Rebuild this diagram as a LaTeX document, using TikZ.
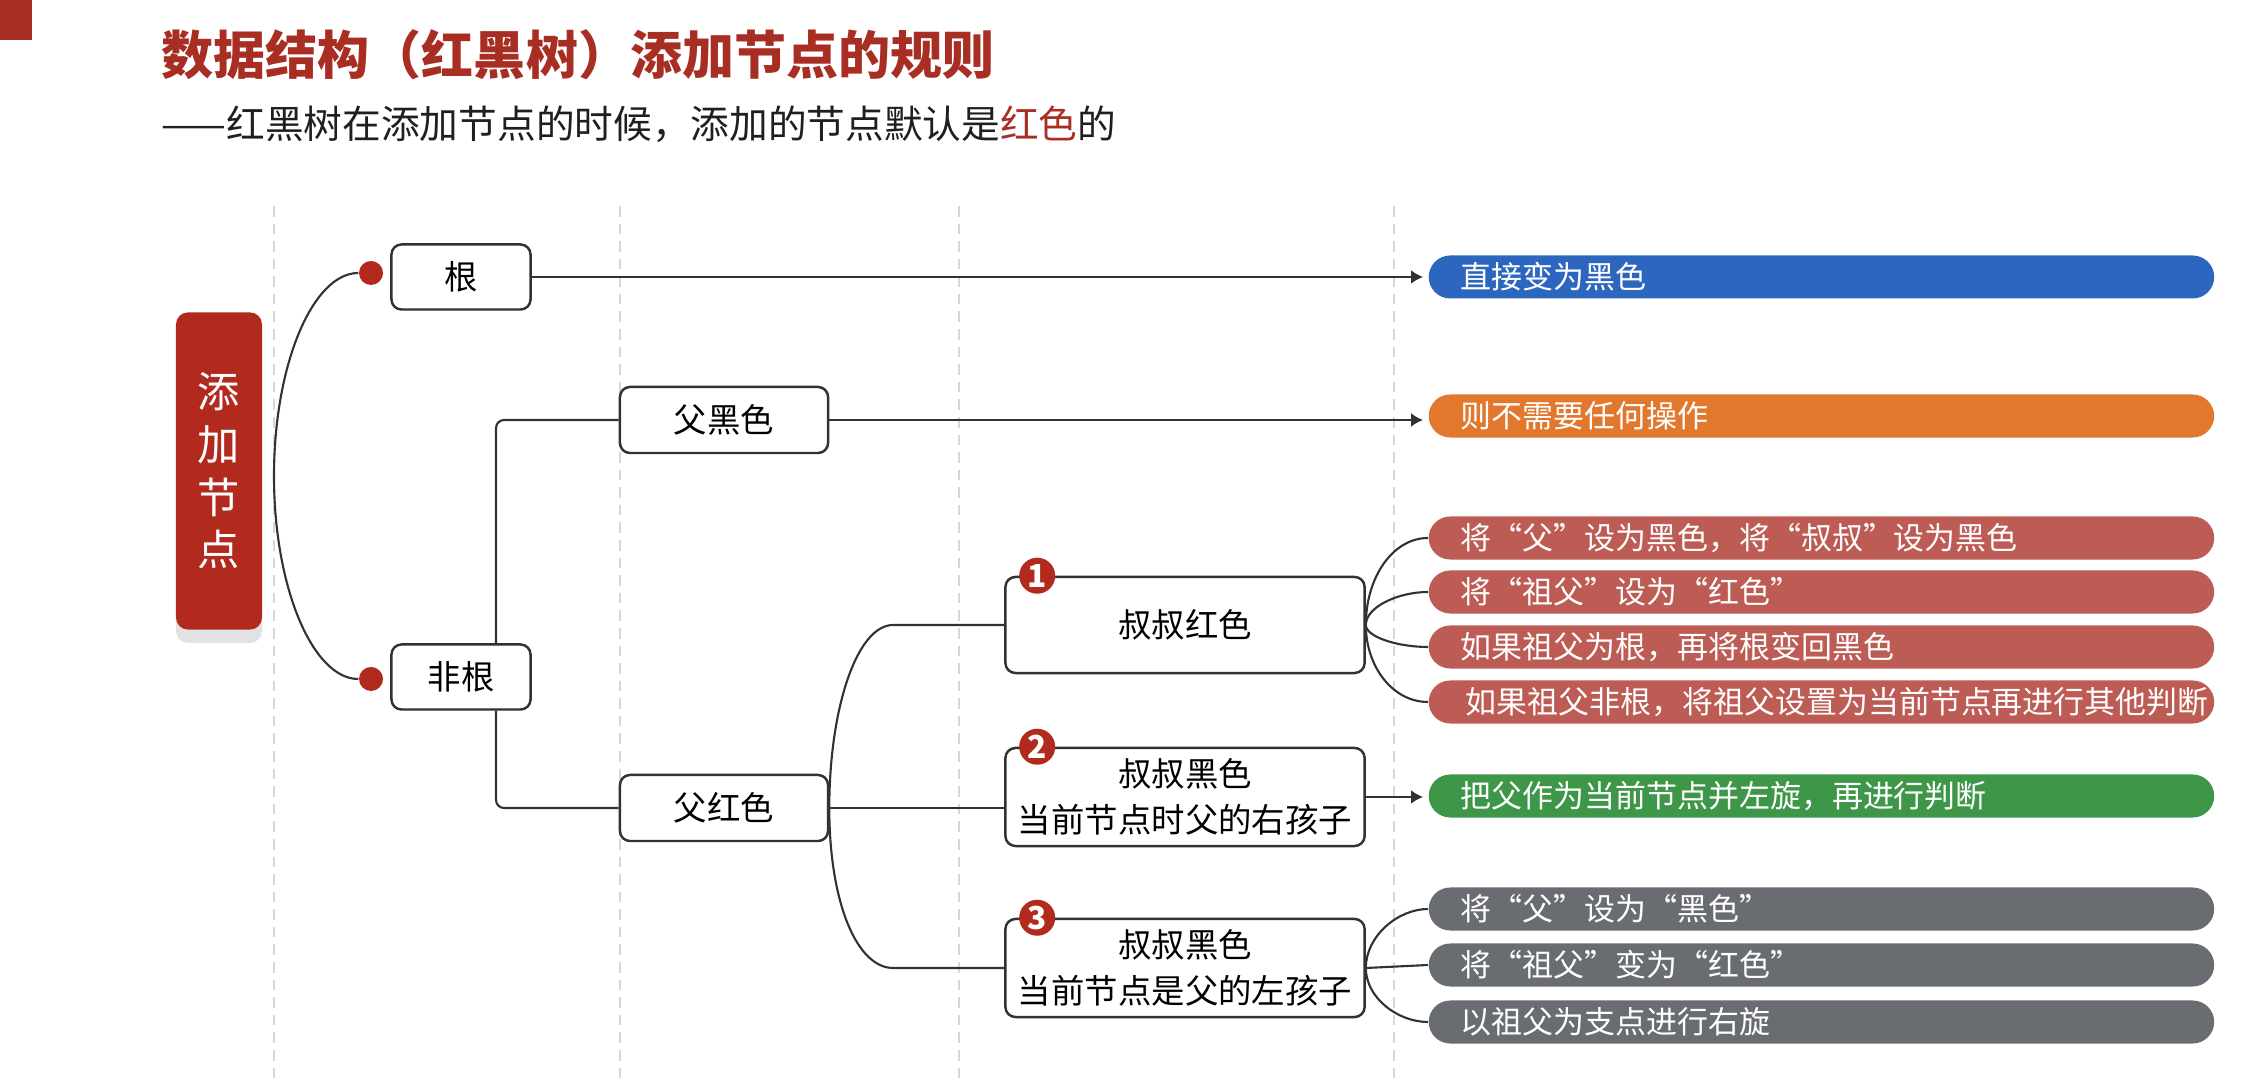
\documentclass[tikz,border=0pt]{standalone}
\usepackage{fontspec}
\setmainfont{Noto Sans CJK SC}
\usepackage{tikz}
\usetikzlibrary{arrows.meta}
\definecolor{tRed}{RGB}{168,46,36}
\definecolor{tagRed}{RGB}{178,42,30}
\definecolor{pBlue}{RGB}{44,102,190}
\definecolor{pOrange}{RGB}{226,120,46}
\definecolor{pRed}{RGB}{188,92,84}
\definecolor{pGreen}{RGB}{62,150,72}
\definecolor{pGray}{RGB}{105,108,112}
\definecolor{lnDark}{RGB}{50,50,50}
\definecolor{gridG}{RGB}{215,215,215}
\definecolor{shadowG}{RGB}{226,226,229}

\tikzset{
  box/.style={draw=lnDark, line width=0.7pt, fill=white, rounded corners=0.1cm,
    align=center, inner sep=0pt, font=\fontsize{9.5}{13}\selectfont},
  tagbox/.style={fill=tagRed, text=white, rounded corners=0.12cm, minimum width=0.86cm,
    minimum height=3.17cm, inner sep=0pt, align=center, font=\fontsize{12}{15}\selectfont},
  pill/.style={anchor=west, rounded corners=0.215cm, minimum height=0.43cm,
    text width=7.21cm, inner xsep=0.32cm, inner ysep=0pt, align=left,
    text=white, font=\fontsize{8.8}{10}\selectfont},
  badge/.style={circle, fill=tagRed, text=white, minimum size=0.36cm,
    inner sep=0pt, font=\fontsize{9}{9}\selectfont\bfseries},
  bullet/.style={circle, fill=tagRed, minimum size=0.24cm, inner sep=0pt},
  link/.style={draw=lnDark, line width=0.6pt},
  arr/.style={link, -{Latex[length=0.12cm,width=0.14cm]}, shorten >=0.05cm},
  guide/.style={draw=gridG, line width=0.4pt, dash pattern=on 3pt off 2pt}
}

\begin{document}
\begin{tikzpicture}[x=0.01cm, y=0.01cm]
  \useasboundingbox (0,0) rectangle (2261,1088);
  % header
  \fill[tRed] (0,1048) rectangle (32,1088);
  \node[anchor=west, inner sep=0pt, text=tRed, font=\fontsize{14.8}{16}\selectfont\bfseries]
    (title) at (161,1033) {数据结构（红黑树）添加节点的规则};
  \node[anchor=west, inner sep=0pt, text=black!88, font=\fontsize{11}{13}\selectfont]
    (sub) at (161,964) {——红黑树在添加节点的时候，添加的节点默认是\textcolor{tRed}{红色}的};
  % column guides
  \foreach \x in {274,620,959,1394}
    \draw[guide] (\x,882) -- (\x,6);

  % root of the map, with its shadow
  \fill[shadowG, rounded corners=0.12cm] (176,445) rectangle (262,760);
  \node[tagbox] (add) at (219,617) {添\\加\\节\\点};

  \node[bullet] (d1) at (371,815) {};
  \node[bullet] (d2) at (371,409) {};
  \draw[link] (d1.west) .. controls (313,815) and (274,724) .. (274,612)
    .. controls (274,500) and (313,409) .. (d2.west);

  % first level
  \node[box, minimum width=1.39cm, minimum height=0.65cm] (gen) at (461,811) {根};
  \node[box, minimum width=1.39cm, minimum height=0.65cm] (feigen) at (461,411) {非根};
  \node[box, minimum width=2.08cm, minimum height=0.66cm] (fuhei) at (724,668) {父黑色};
  \node[box, minimum width=2.08cm, minimum height=0.66cm] (fuhong) at (724,280) {父红色};
  \draw[link, rounded corners=0.08cm] ([xshift=0.35cm]feigen.north) |- (fuhei.west);
  \draw[link, rounded corners=0.08cm] ([xshift=0.35cm]feigen.south) |- (fuhong.west);

  % cases under red parent
  \node[box, minimum width=3.59cm, minimum height=0.96cm] (shuhong) at (1185,463) {叔叔红色};
  \node[box, minimum width=3.59cm, minimum height=0.98cm] (shuhei1) at (1185,291)
    {叔叔黑色\\当前节点时父的右孩子};
  \node[box, minimum width=3.59cm, minimum height=0.98cm] (shuhei2) at (1185,120)
    {叔叔黑色\\当前节点是父的左孩子};
  \node[badge] (b1) at ([xshift=0.33cm]shuhong.north west) {1};
  \node[badge] (b2) at ([xshift=0.33cm]shuhei1.north west) {2};
  \node[badge] (b3) at ([xshift=0.33cm]shuhei2.north west) {3};
  \draw[link] (fuhong.east) to[out=90, in=180, out distance=1cm, in distance=0.36cm]
    ([xshift=-1.11cm]shuhong.west) -- (shuhong.west);
  \draw[link] (fuhong.east) -- (fuhong.east -| shuhei1.west);
  \draw[link] (fuhong.east) to[out=-90, in=180, out distance=0.95cm, in distance=0.36cm]
    ([xshift=-1.11cm]shuhei2.west) -- (shuhei2.west);

  % results
  \node[pill, fill=pBlue] (pblue) at (1428,811) {直接变为黑色};
  \node[pill, fill=pOrange] (porange) at (1428,672) {则不需要任何操作};
  \node[pill, fill=pRed] (pr1) at (1428,550) {将“父”设为黑色，将“叔叔”设为黑色};
  \node[pill, fill=pRed] (pr2) at (1428,496) {将“祖父”设为“红色”};
  \node[pill, fill=pRed] (pr3) at (1428,441) {如果祖父为根，再将根变回黑色};
  \node[pill, fill=pRed] (pr4) at (1428,386) {\,如果祖父非根，将祖父设置为当前节点再进行其他判断};
  \node[pill, fill=pGreen] (pgreen) at (1428,292) {把父作为当前节点并左旋，再进行判断};
  \node[pill, fill=pGray] (pg1) at (1428,179) {将“父”设为“黑色”};
  \node[pill, fill=pGray] (pg2) at (1428,123) {将“祖父”变为“红色”};
  \node[pill, fill=pGray] (pg3) at (1428,66) {以祖父为支点进行右旋};

  \draw[arr] (gen.east) -- (gen.east -| pblue.west);
  \draw[arr] (fuhei.east) -- (fuhei.east -| porange.west);
  \draw[arr] (shuhei1.east) -- (shuhei1.east -| pgreen.west);

  \draw[link] (shuhong.east) to[out=90, in=180, out distance=0.48cm, in distance=0.35cm] (pr1.west);
  \draw[link] (shuhong.east) to[out=90, in=180, out distance=0.18cm, in distance=0.3cm] (pr2.west);
  \draw[link] (shuhong.east) to[out=-90, in=180, out distance=0.12cm, in distance=0.3cm] (pr3.west);
  \draw[link] (shuhong.east) to[out=-90, in=180, out distance=0.42cm, in distance=0.35cm] (pr4.west);
  \draw[link] (shuhei2.east) to[out=90, in=180, out distance=0.32cm, in distance=0.3cm] (pg1.west);
  \draw[link] (shuhei2.east) -- (pg2.west);
  \draw[link] (shuhei2.east) to[out=-90, in=180, out distance=0.3cm, in distance=0.3cm] (pg3.west);
\end{tikzpicture}
\end{document}
